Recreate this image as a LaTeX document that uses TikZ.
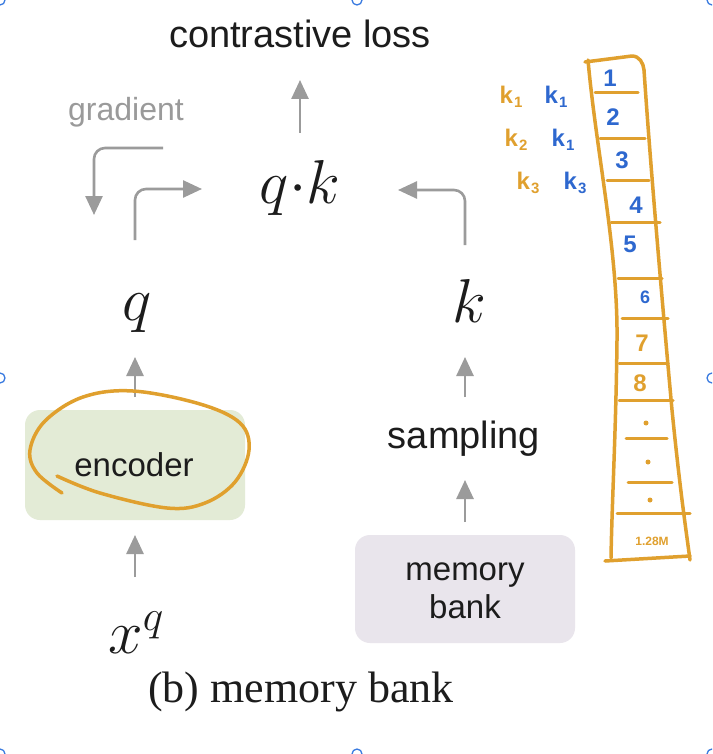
\documentclass[tikz,border=0pt]{standalone}
\usepackage{fix-cm}
\usepackage{fontspec}
\setmainfont{Liberation Serif}
\setsansfont{Liberation Sans}
\usetikzlibrary{arrows.meta}
\definecolor{arr}{HTML}{9B9B9B}
\definecolor{txt}{HTML}{1C1C1C}
\definecolor{gtxt}{HTML}{9A9A9A}
\definecolor{encfill}{HTML}{E3EBD6}
\definecolor{memfill}{HTML}{E9E5EC}
\definecolor{hor}{HTML}{E0A02E}
\definecolor{hbl}{HTML}{2E68CF}
\definecolor{handle}{HTML}{3A7BE0}
\newcommand{\hk}[1]{k\kern1pt{\fontsize{15}{16}\selectfont\raisebox{-4pt}{#1}}}
\tikzset{
  garrow/.style={draw=arr, line width=2.6pt, -{Triangle[length=19pt,width=17pt]}, rounded corners=11pt},
  sanslbl/.style={font=\sffamily\fontsize{33}{38}\selectfont, text=txt, inner sep=0pt, anchor=base},
  bigsans/.style={sanslbl, font=\sffamily\fontsize{38}{44}\selectfont},
  mathlbl/.style={font=\fontsize{62}{70}\selectfont, text=txt, inner sep=0pt, anchor=base},
  rbox/.style={rounded corners=15pt, inner sep=0pt, draw=none},
  hand/.style={draw=hor, line width=3.5pt, line cap=round, line join=round},
  handtxt/.style={font=\sffamily\bfseries\fontsize{24}{26}\selectfont, inner sep=0pt},
  selhandle/.style={draw=handle, line width=1.3pt, fill=white}
}
\begin{document}
\begin{tikzpicture}[x=1pt,y=-1pt]
\useasboundingbox (0,0) rectangle (712,754);
\fill[white] (0,0) rectangle (712,754);
\clip (0,0) rectangle (712,754);

% boxes
\node[rbox, fill=encfill, minimum width=220pt, minimum height=110pt] (enc) at (135,465) {};
\node[rbox, fill=memfill, minimum width=220pt, minimum height=108pt] (mem) at (465,589) {};

% texts
\node[bigsans] (loss) at (300,48) {contrastive loss};
\node[sanslbl, text=gtxt, font=\sffamily\fontsize{32}{36}\selectfont] (grad) at (126,121) {gradient};
\node[mathlbl] (qk) at (300,203) {$q{\cdot}k$};
\node[mathlbl] (q) at (137,320) {$q$};
\node[mathlbl] (k) at (469,322) {$k$};
\node[mathlbl] (xq) at (136,653) {$x^q$};
\node[sanslbl] (enctxt) at (134,476) {encoder};
\node[bigsans] (samp) at (464,448) {sampling};
\node[sanslbl] (memtxt) at (465,580) {memory};
\node[sanslbl] (banktxt) at (465,618) {bank};
\node[font=\fontsize{44}{50}\selectfont, text=txt, inner sep=0pt, anchor=base] (cap) at (301,702) {(b) memory bank};

% connector coordinates
\coordinate (qkout) at (300,133);
\coordinate (lossin) at (300,80);
\coordinate (kout) at (465,245);
\coordinate (kturn) at (465,190);
\coordinate (qkright) at (398,190);
\coordinate (qout) at (135,240);
\coordinate (qturn) at (135,189);
\coordinate (qkleft) at (202,189);
\coordinate (gstart) at (163,148);
\coordinate (gturn) at (94,148);
\coordinate (gend) at (94,215);
\coordinate (encout) at (135,397);
\coordinate (qin) at (135,357);
\coordinate (xqout) at (135,577);
\coordinate (encin) at (135,535);
\coordinate (sampout) at (465,397);
\coordinate (kin) at (465,357);
\coordinate (memout) at (465,522);
\coordinate (sampin) at (465,480);

\draw[garrow] (qkout) -- (lossin);
\draw[garrow] (kout) -- (kturn) -- (qkright);
\draw[garrow] (qout) -- (qturn) -- (qkleft);
\draw[garrow] (gstart) -- (gturn) -- (gend);
\draw[garrow] (encout) -- (qin);
\draw[garrow] (xqout) -- (encin);
\draw[garrow] (sampout) -- (kin);
\draw[garrow] (memout) -- (sampin);

% handwritten loop around encoder
\draw[hand] plot[smooth, tension=0.6] coordinates {(57,476) (100,493) (167,508) (205,503) (235,482) (249,450) (240,423) (200,404) (133,391) (83,397) (45,421) (30,450) (37,473) (62,493)};

% handwritten memory column
\draw[hand] (585,62) -- (632,56) to[out=0,in=95] (644,70);
\draw[hand] (588,60) .. controls (596,150) and (618,250) .. (617,340) .. controls (616,430) and (612,500) .. (611,558);
\draw[hand] (644,70) .. controls (650,160) and (662,300) .. (672,410) .. controls (680,490) and (686,530) .. (690,560);
\draw[hand] (605,561) -- (690,556);
\foreach \yy/\xa/\xb in {93/595/638, 139/600/645, 180/607/649, 222/611/660, 278/618/662, 318/622/668, 363/619/668, 400/619/673, 438/626/667, 482/628/672, 513/617/690}
  \draw[hand, line width=3pt] (\xa,\yy) -- (\xb,\yy);

\node[handtxt, text=hbl] (n1) at (610,78) {1};
\node[handtxt, text=hbl] (n2) at (613,117) {2};
\node[handtxt, text=hbl] (n3) at (622,160) {3};
\node[handtxt, text=hbl] (n4) at (636,205) {4};
\node[handtxt, text=hbl] (n5) at (630,244) {5};
\node[handtxt, text=hbl, font=\sffamily\bfseries\fontsize{18}{20}\selectfont] (n6) at (645,297) {6};
\node[handtxt, text=hor] (n7) at (642,343) {7};
\node[handtxt, text=hor] (n8) at (640,383) {8};
\fill[hor] (646,423) circle (2.5pt);
\fill[hor] (648,462) circle (2.5pt);
\fill[hor] (650,500) circle (2.5pt);
\node[handtxt, text=hor, font=\sffamily\bfseries\fontsize{12}{14}\selectfont] (n128) at (652,541) {1.28M};

% handwritten key labels
\node[handtxt, text=hor] (ok1) at (511,97) {\hk{1}};
\node[handtxt, text=hbl] (bk1) at (556,97) {\hk{1}};
\node[handtxt, text=hor] (ok2) at (516,140) {\hk{2}};
\node[handtxt, text=hbl] (bk1b) at (563,140) {\hk{1}};
\node[handtxt, text=hor] (ok3) at (528,183) {\hk{3}};
\node[handtxt, text=hbl] (bk3) at (575,183) {\hk{3}};

% selection handles
\foreach \hx/\hy in {0/0, 357/0, 712/0, 0/378, 712/378, 0/754, 357/754, 712/754}
  \draw[selhandle] (\hx,\hy) circle (5pt);
\end{tikzpicture}
\end{document}
